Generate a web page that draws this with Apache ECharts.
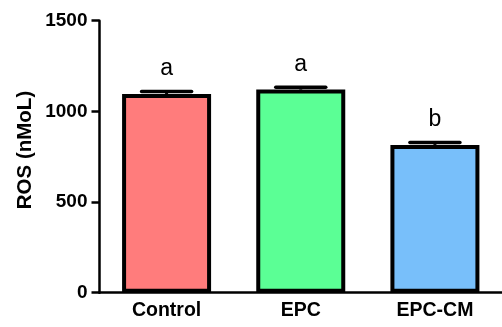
<!DOCTYPE html>
<html><head><meta charset="utf-8">
<script src="https://cdn.jsdelivr.net/npm/echarts@6/dist/echarts.min.js"></script>
<style>html,body{margin:0;padding:0;background:#fff}#c{width:502px;height:327px}</style>
</head><body><div id="c"></div>
<script>
var categories = ['Control', 'EPC', 'EPC-CM'];
var rosValues = [1096, 1120, 815];
var rosErrors = [13, 13, 13];
var sigLetters = ['a', 'a', 'b'];
var barColors = ['#FF7C7C', '#5BFF95', '#78BFFA'];
var yTicks = [0, 500, 1000, 1500];
var yTitle = 'ROS (nMoL)';

var chart = echarts.init(document.getElementById('c'), null, {renderer: 'canvas'});
var font = 'Liberation Sans, Arial, sans-serif';
chart.setOption({
  animation: false,
  backgroundColor: '#fff',
  grid: {left: 99.5, top: 20.7, width: 409, bottom: 34.3, containLabel: false},
  graphic: [{
    type: 'text', x: 25, y: 150, rotation: Math.PI / 2,
    style: {text: yTitle, fill: '#000', font: 'bold 20.5px Liberation Sans, Arial, sans-serif',
            textAlign: 'center', textVerticalAlign: 'middle'}
  }],
  xAxis: {
    type: 'category', data: categories,
    axisLine: {lineStyle: {color: '#000', width: 2.5}},
    axisTick: {alignWithLabel: true, length: 6, lineStyle: {color: '#000', width: 2.5}},
    axisLabel: {color: '#000', fontFamily: font, fontWeight: 'bold', fontSize: 19.5, margin: 8}
  },
  yAxis: {
    type: 'value', min: yTicks[0], max: yTicks[yTicks.length - 1], interval: 500,
    axisLine: {show: true, lineStyle: {color: '#000', width: 2.5}},
    axisTick: {show: true, length: 8, lineStyle: {color: '#000', width: 2.5}},
    axisLabel: {color: '#000', fontFamily: font, fontWeight: 'bold', fontSize: 19, margin: 12,
                formatter: function (v) { return String(v); }},
    splitLine: {show: false}
  },
  series: [
    {
      type: 'bar', barWidth: 89,
      data: rosValues.map(function (v, i) {
        return {value: v, itemStyle: {color: barColors[i], borderColor: '#000', borderWidth: 4}};
      }),
      z: 2
    },
    {
      type: 'custom', z: 3,
      data: rosValues.map(function (v, i) { return [i, v, rosErrors[i]]; }),
      renderItem: function (params, api) {
        var x = api.value(0), v = api.value(1), e = api.value(2);
        var top = api.coord([x, v + e]);
        var base = api.coord([x, v]);
        var half = 25;
        return {
          type: 'group', children: [
            {type: 'line', shape: {x1: top[0], y1: top[1], x2: top[0], y2: base[1]},
             style: {stroke: '#000', lineWidth: 3}},
            {type: 'line', shape: {x1: top[0] - half, y1: top[1], x2: top[0] + half, y2: top[1]},
             style: {stroke: '#000', lineWidth: 3.5, lineCap: 'round'}},
            {type: 'text', x: top[0], y: top[1] - 11,
             style: {text: sigLetters[params.dataIndex], fill: '#000', font: '23px Liberation Sans, Arial, sans-serif',
                     textAlign: 'center', textVerticalAlign: 'bottom'}}
          ]
        };
      }
    }
  ]
});
</script></body></html>
